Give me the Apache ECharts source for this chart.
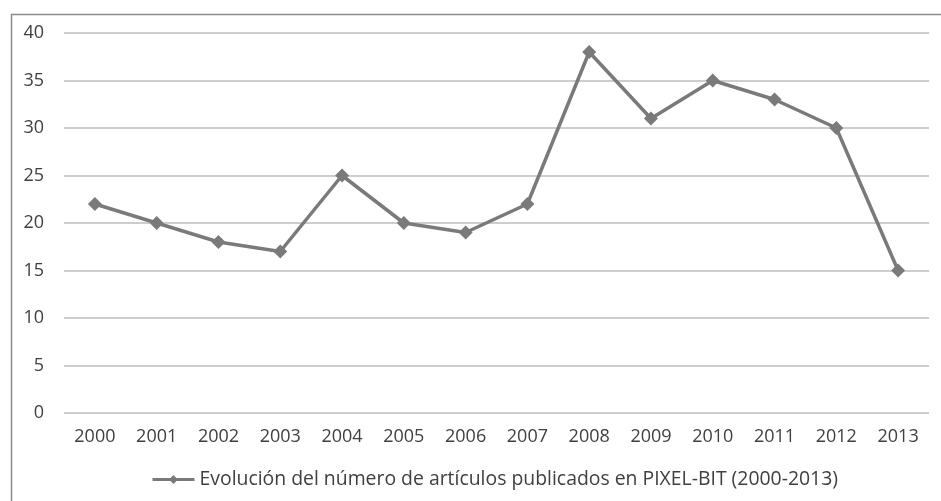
<!DOCTYPE html>
<html>
<head>
<meta charset="utf-8">
<script src="https://cdn.jsdelivr.net/npm/echarts@6/dist/echarts.min.js"></script>
<style>
  html, body { margin: 0; padding: 0; background: #fff; }
  #chart { width: 941px; height: 501px; }
</style>
</head>
<body>
<div id="chart"></div>
<script>
var years = ['2000', '2001', '2002', '2003', '2004', '2005', '2006', '2007', '2008', '2009', '2010', '2011', '2012', '2013'];
var articles = [22, 20, 18, 17, 25, 20, 19, 22, 38, 31, 35, 33, 30, 15];
var seriesName = 'Evolución del número de artículos publicados en PIXEL-BIT (2000-2013)';

var chart = echarts.init(document.getElementById('chart'));

var option = {
    animation: false,
    textStyle: { fontFamily: 'Open Sans' },
    graphic: [{
        type: 'rect',
        left: 9,
        top: 12,
        shape: { width: 1000, height: 600 },
        style: { fill: 'none', stroke: '#8c8c8c', lineWidth: 1.5 },
        silent: true
    }],
    grid: { left: 64, right: 12, top: 33, bottom: 88 },
    legend: {
        bottom: 7,
        left: 146,
        itemWidth: 42,
        itemHeight: 11,
        itemGap: 6,
        lineStyle: { width: 3 },
        textStyle: { fontSize: 19.4, color: '#404040', fontFamily: 'Open Sans' },
        data: [seriesName]
    },
    xAxis: {
        type: 'category',
        data: years,
        boundaryGap: true,
        axisLine: { show: false },
        axisTick: { show: false },
        axisLabel: { fontSize: 18, color: '#404040', margin: 15 }
    },
    yAxis: {
        type: 'value',
        min: 0,
        max: 40,
        interval: 5,
        axisLine: { show: false },
        axisTick: { show: false },
        axisLabel: { fontSize: 18, color: '#404040', margin: 20 },
        splitLine: { lineStyle: { color: '#bdbdbd', width: 1.5 } }
    },
    series: [{
        name: seriesName,
        type: 'line',
        data: articles,
        symbol: 'diamond',
        symbolSize: 14,
        lineStyle: { color: '#7a7a7a', width: 3.5 },
        itemStyle: { color: '#7a7a7a' }
    }]
};

chart.setOption(option);
</script>
</body>
</html>
